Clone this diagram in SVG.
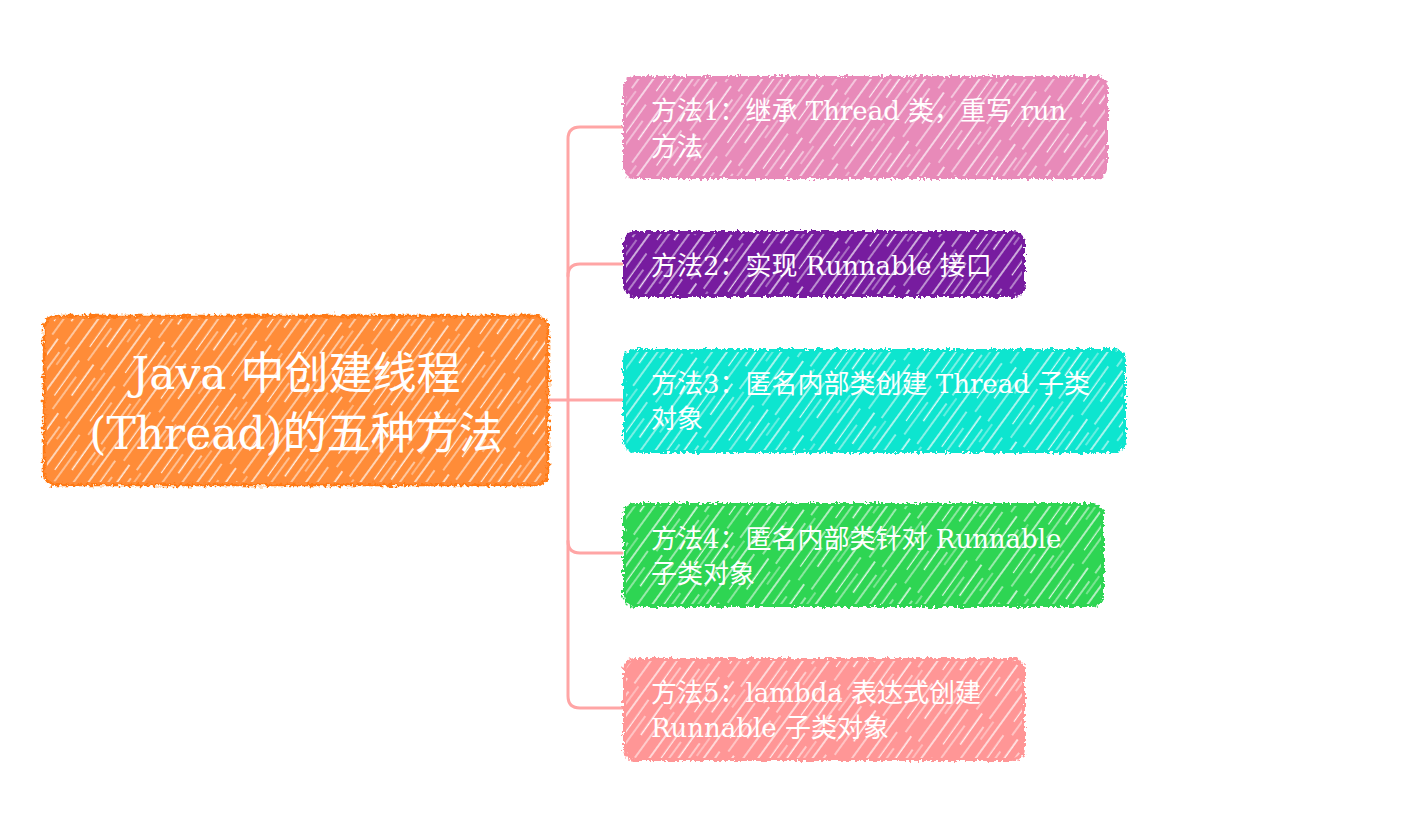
<svg xmlns="http://www.w3.org/2000/svg" width="1428" height="825" viewBox="0 0 1428 825">
<defs>
<pattern id="hatch" patternUnits="userSpaceOnUse" width="44" height="60" patternTransform="rotate(36)">
<line x1="3" y1="0" x2="3" y2="60" stroke="#ffffff" stroke-width="1.4" stroke-opacity="0.9"/>
<line x1="12" y1="5" x2="12.5" y2="48" stroke="#ffffff" stroke-width="1.2" stroke-opacity="0.85"/>
<line x1="19" y1="20" x2="19" y2="60" stroke="#ffffff" stroke-width="1.1" stroke-opacity="0.8"/>
<line x1="26" y1="0" x2="26.5" y2="38" stroke="#ffffff" stroke-width="1.5" stroke-opacity="0.9"/>
<line x1="35" y1="10" x2="35" y2="60" stroke="#ffffff" stroke-width="1.2" stroke-opacity="0.85"/>
<line x1="40" y1="0" x2="40" y2="22" stroke="#ffffff" stroke-width="1" stroke-opacity="0.7"/>
</pattern>
<filter id="rough" x="-5%" y="-10%" width="110%" height="120%">
<feTurbulence type="fractalNoise" baseFrequency="0.3" numOctaves="2" seed="3" result="n"/>
<feDisplacementMap in="SourceGraphic" in2="n" scale="7" xChannelSelector="R" yChannelSelector="G"/>
</filter>
<style>
.conn{fill:none;stroke:#FFA5A5;stroke-width:3;stroke-linecap:round}
.hatch{fill:url(#hatch)}
.t{font-family:"DejaVu Serif","Noto Sans CJK SC",serif;fill:#ffffff}
.child{font-size:26px}
.root{font-size:44px;text-anchor:middle}
</style>
</defs>
<rect width="1428" height="825" fill="#ffffff"/>
<g id="connectors">
<path class="conn" d="M548 400 H568"/>
<path class="conn" d="M622 127 H580 Q568 127 568 139 V696 Q568 708 580 708 H622"/>
<path class="conn" d="M622 264 H580 Q568 264 568 276"/>
<path class="conn" d="M568 400 H622"/>
<path class="conn" d="M568 541 Q568 553 580 553 H622"/>
</g>
<g id="root">
<rect x="44" y="316" width="504" height="169" rx="12" fill="#FF8C37" stroke="#FF7A12" stroke-width="2.5" filter="url(#rough)"/>
<rect x="47" y="319" width="498" height="163" rx="10" class="hatch"/>
<text class="t root" x="296" y="389">Java 中创建线程</text>
<text class="t root" x="296" y="449">(Thread)的五种方法</text>
</g>
<g id="node1">
<rect x="623" y="76" width="485" height="103" rx="12" fill="#E88AB9" filter="url(#rough)"/>
<rect x="626" y="79" width="479" height="97" rx="10" class="hatch"/>
<text class="t child" x="651" y="120">方法1：继承 Thread 类，重写 run</text>
<text class="t child" x="651" y="156">方法</text>
</g>
<g id="node2">
<rect x="623" y="231" width="402" height="66" rx="12" fill="#771D9F" filter="url(#rough)"/>
<rect x="626" y="234" width="396" height="60" rx="10" class="hatch"/>
<text class="t child" x="651" y="275">方法2：实现 Runnable 接口</text>
</g>
<g id="node3">
<rect x="623" y="349" width="503" height="104" rx="12" fill="#10E5CF" filter="url(#rough)"/>
<rect x="626" y="352" width="497" height="98" rx="10" class="hatch"/>
<text class="t child" x="651" y="393">方法3：匿名内部类创建 Thread 子类</text>
<text class="t child" x="651" y="428">对象</text>
</g>
<g id="node4">
<rect x="623" y="503" width="481" height="104" rx="12" fill="#2DD552" filter="url(#rough)"/>
<rect x="626" y="506" width="475" height="98" rx="10" class="hatch"/>
<text class="t child" x="651" y="548">方法4：匿名内部类针对 Runnable</text>
<text class="t child" x="651" y="583">子类对象</text>
</g>
<g id="node5">
<rect x="623" y="658" width="402" height="103" rx="12" fill="#FF9696" filter="url(#rough)"/>
<rect x="626" y="661" width="396" height="97" rx="10" class="hatch"/>
<text class="t child" x="651" y="702">方法5：lambda 表达式创建</text>
<text class="t child" x="651" y="737">Runnable 子类对象</text>
</g>
</svg>
